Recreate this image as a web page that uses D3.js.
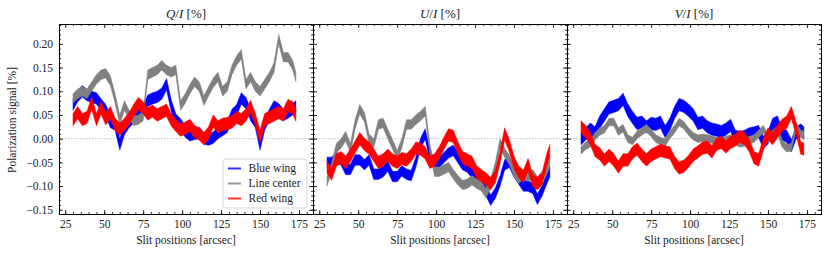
<!DOCTYPE html>
<html>
<head>
<meta charset="utf-8">
<script src="https://cdn.jsdelivr.net/npm/d3@7"></script>
<style>
body { margin: 0; background: white; }
</style>
</head>
<body>
<div id="chart"></div>
<script>
let width = 831;
let height = 255;
let serif = "Liberation Serif";

// slit positions [arcsec]
let slitPos = [30, 33, 36, 39, 42, 45, 48, 51, 54, 57, 60, 63, 66, 69, 72, 75, 78, 81, 84, 87,
               90, 93, 96, 99, 102, 105, 108, 111, 114, 117, 120, 123, 126, 129, 132, 135, 138,
               141, 144, 147, 150, 153, 156, 159, 162, 165, 168, 171, 173];

// Q/I
let qBlue = [0.072, 0.09, 0.10, 0.092, 0.088, 0.085, 0.072, 0.06, 0.035, 0.03, -0.012, 0.02, 0.035,
             0.045, 0.055, 0.06, 0.08, 0.085, 0.088, 0.095, 0.115, 0.07, 0.04, 0.03, 0.015, 0.007,
             0.01, 0.012, 0.0, -0.002, 0.002, 0.012, 0.018, 0.025, 0.05, 0.06, 0.085, 0.075, 0.05,
             0.035, -0.012, 0.03, 0.05, 0.068, 0.062, 0.05, 0.055, 0.062, 0.068];
let qCenter = [0.085, 0.095, 0.10, 0.095, 0.11, 0.125, 0.135, 0.138, 0.122, 0.085, 0.04, 0.07, 0.05,
               0.038, 0.04, 0.048, 0.135, 0.14, 0.145, 0.155, 0.145, 0.14, 0.145, 0.07, 0.085, 0.105,
               0.12, 0.11, 0.08, 0.10, 0.118, 0.13, 0.10, 0.11, 0.145, 0.165, 0.178, 0.115, 0.13,
               0.11, 0.10, 0.115, 0.13, 0.15, 0.21, 0.172, 0.172, 0.155, 0.13];
let qRed = [0.04, 0.055, 0.04, 0.045, 0.075, 0.04, 0.065, 0.042, 0.055, 0.03, 0.02, 0.03, 0.042,
            0.06, 0.074, 0.065, 0.052, 0.058, 0.05, 0.055, 0.06, 0.04, 0.028, 0.018, 0.022, 0.028,
            0.015, 0.01, 0.0, 0.012, 0.037, 0.025, 0.03, 0.032, 0.035, 0.045, 0.04, 0.05, 0.068,
            0.04, 0.005, 0.04, 0.045, 0.05, 0.055, 0.05, 0.07, 0.065, 0.05];

// U/I
let uBlue = [-0.05, -0.05, -0.04, -0.045, -0.065, -0.065, -0.045, -0.045, -0.055, -0.045, -0.075,
             -0.075, -0.07, -0.058, -0.08, -0.08, -0.068, -0.075, -0.078, -0.05, -0.01, 0.01, -0.035,
             -0.055, -0.05, -0.04, -0.03, -0.025, -0.04, -0.055, -0.06, -0.072, -0.078, -0.095,
             -0.11, -0.13, -0.115, -0.09, -0.055, -0.05, -0.07, -0.085, -0.10, -0.10, -0.105,
             -0.128, -0.11, -0.085, -0.07];
let uCenter = [-0.09, -0.06, -0.02, -0.01, 0.005, -0.02, 0.03, 0.062, 0.045, 0.0, -0.01, 0.03,
               0.033, 0.01, -0.012, -0.035, -0.01, 0.03, 0.03, 0.04, 0.048, 0.058, -0.02, -0.07,
               -0.07, -0.065, -0.06, -0.075, -0.088, -0.098, -0.095, -0.088, -0.095, -0.10, -0.115,
               -0.095, -0.06, -0.01, -0.03, -0.045, -0.07, -0.085, -0.075, -0.08, -0.075, -0.09,
               -0.08, -0.065, -0.05];
let uRed = [-0.06, -0.075, -0.045, -0.04, -0.05, -0.035, -0.018, 0.0, -0.012, -0.02, -0.035, -0.05,
            -0.045, -0.035, -0.045, -0.05, -0.042, -0.045, -0.035, -0.02, -0.022, -0.03, -0.05,
            -0.045, -0.03, -0.01, 0.008, 0.005, -0.02, -0.04, -0.045, -0.05, -0.07, -0.078, -0.085,
            -0.095, -0.08, -0.04, 0.01, -0.015, -0.05, -0.07, -0.08, -0.055, -0.088, -0.095,
            -0.085, -0.045, -0.025];

// V/I
let vBlue = [0.0, 0.01, 0.02, 0.012, 0.035, 0.05, 0.065, 0.068, 0.072, 0.083, 0.06, 0.045, 0.032,
             0.035, 0.025, 0.032, 0.03, 0.035, 0.015, 0.03, 0.055, 0.072, 0.068, 0.06, 0.05, 0.032,
             0.035, 0.025, 0.02, 0.018, 0.015, 0.02, 0.028, 0.005, 0.002, 0.005, 0.01, 0.012, 0.015,
             -0.008, 0.002, 0.03, 0.035, 0.01, 0.005, -0.015, 0.012, 0.018, 0.012];
let vCenter = [-0.025, -0.015, -0.01, 0.005, 0.015, 0.02, 0.035, 0.035, 0.015, 0.022, 0.0, -0.005,
               0.008, 0.015, 0.022, 0.012, 0.0, -0.005, -0.008, 0.008, 0.02, 0.035, 0.028, 0.015,
               0.005, 0.0, 0.002, 0.0, -0.002, -0.005, -0.006, -0.003, 0.0, -0.005, -0.01, -0.008,
               -0.003, 0.0, 0.01, 0.02, 0.0, 0.01, 0.018, -0.01, -0.02, -0.018, 0.025, 0.01, 0.008];
let vRed = [0.025, 0.015, 0.0, -0.025, -0.032, -0.045, -0.035, -0.045, -0.06, -0.045, -0.045, -0.03,
            -0.022, -0.035, -0.045, -0.035, -0.03, -0.025, -0.028, -0.03, -0.05, -0.062, -0.058,
            -0.048, -0.035, -0.028, -0.02, -0.018, -0.028, -0.012, -0.008, -0.018, -0.008, -0.003,
            0.005, 0.0, -0.015, -0.04, -0.045, -0.012, 0.01, 0.0, 0.015, 0.028, 0.035, 0.055,
            0.022, -0.02, -0.022];

// band half-widths (blue, center, red) per panel
let qErr = [0.012, 0.010, 0.013];
let uErr = [0.011, 0.010, 0.013];
let vErr = [0.013, 0.008, 0.013];

let seriesNames = ["Blue wing", "Line center", "Red wing"];
let seriesColors = ["#0000ff", "#808080", "#ff0000"];

let panels = [
  {title: ["Q", "/", "I"], data: [qBlue, qCenter, qRed], err: qErr},
  {title: ["U", "/", "I"], data: [uBlue, uCenter, uRed], err: uErr},
  {title: ["V", "/", "I"], data: [vBlue, vCenter, vRed], err: vErr}
];

let yTicks = [-0.15, -0.10, -0.05, 0.00, 0.05, 0.10, 0.15, 0.20];
let xTicks = [25, 50, 75, 100, 125, 150, 175];

let svg = d3.select("#chart").append("svg")
  .attr("width", width)
  .attr("height", height)
  .attr("font-family", serif);

let panelLeft = [59, 313, 567];
let panelW = 254;
let plotTop = 24, plotBottom = 214;

let y = d3.scaleLinear().domain([-0.159, 0.242]).range([plotBottom, plotTop]);
let fmt = function(d) { return d3.format(".2f")(d).replace("-", "\u2212"); };

panels.forEach(function(p, pi) {
  let x = d3.scaleLinear().domain([21, 184]).range([panelLeft[pi], panelLeft[pi] + panelW]);
  let g = svg.append("g");

  g.append("clipPath").attr("id", "clip" + pi)
    .append("rect")
    .attr("x", panelLeft[pi]).attr("y", plotTop)
    .attr("width", panelW).attr("height", plotBottom - plotTop);

  // zero line
  g.append("line")
    .attr("x1", panelLeft[pi]).attr("x2", panelLeft[pi] + panelW)
    .attr("y1", y(0)).attr("y2", y(0))
    .attr("stroke", "#b0b0b0").attr("stroke-width", 0.8)
    .attr("stroke-dasharray", "1.5,1.5");

  let plot = g.append("g").attr("clip-path", "url(#clip" + pi + ")");
  p.data.forEach(function(vals, si) {
    let e = p.err[si];
    let area = d3.area()
      .x(function(d, i) { return x(slitPos[i]); })
      .y0(function(d) { return y(d - e); })
      .y1(function(d) { return y(d + e); });
    plot.append("path")
      .datum(vals)
      .attr("d", area)
      .attr("fill", seriesColors[si])
      .attr("stroke", seriesColors[si])
      .attr("stroke-width", 0.5);
  });

  // axes, ticks inward on all sides
  let xMinor = d3.range(25, 184, 5);
  let yMinor = d3.range(-15, 25, 1).map(function(d) { return d / 100; });

  let bAxis = d3.axisBottom(x).tickValues(xTicks).tickSize(-4).tickPadding(6).tickFormat(d3.format("d"));
  let tAxis = d3.axisTop(x).tickValues(xTicks).tickSize(-4).tickFormat("");
  let lAxis = d3.axisLeft(y).tickValues(yTicks).tickSize(-4).tickPadding(6).tickFormat(fmt);
  let rAxis = d3.axisRight(y).tickValues(yTicks).tickSize(-4).tickFormat("");

  g.append("g").attr("transform", "translate(0," + plotBottom + ")").call(bAxis);
  g.append("g").attr("transform", "translate(0," + plotBottom + ")")
    .call(d3.axisBottom(x).tickValues(xMinor).tickSize(-2).tickFormat(""));
  g.append("g").attr("transform", "translate(0," + plotTop + ")").call(tAxis);
  g.append("g").attr("transform", "translate(0," + plotTop + ")")
    .call(d3.axisTop(x).tickValues(xMinor).tickSize(-2).tickFormat(""));
  let gl = g.append("g").attr("transform", "translate(" + panelLeft[pi] + ",0)").call(lAxis);
  g.append("g").attr("transform", "translate(" + panelLeft[pi] + ",0)")
    .call(d3.axisLeft(y).tickValues(yMinor).tickSize(-2).tickFormat(""));
  g.append("g").attr("transform", "translate(" + (panelLeft[pi] + panelW) + ",0)").call(rAxis);
  g.append("g").attr("transform", "translate(" + (panelLeft[pi] + panelW) + ",0)")
    .call(d3.axisRight(y).tickValues(yMinor).tickSize(-2).tickFormat(""));

  if (pi > 0) gl.selectAll("text").remove();

  g.selectAll("g").attr("font-family", serif);
  g.selectAll(".domain").attr("stroke", "#000").attr("stroke-width", 0.9);
  g.selectAll(".tick line").attr("stroke", "#000").attr("stroke-width", 0.8);
  g.selectAll(".tick text")
    .attr("font-size", 11.5)
    .attr("fill", "#222");

  // title
  let t = svg.append("text")
    .attr("x", panelLeft[pi] + panelW / 2)
    .attr("y", 18)
    .attr("text-anchor", "middle")
    .attr("fill", "#222")
    .attr("font-size", 13);
  t.append("tspan").attr("font-style", "italic").text(p.title[0]);
  t.append("tspan").text(p.title[1]);
  t.append("tspan").attr("font-style", "italic").text(p.title[2]);
  t.append("tspan").text(" [%]");

  svg.append("text")
    .attr("x", panelLeft[pi] + panelW / 2)
    .attr("y", 244)
    .attr("text-anchor", "middle")
    .attr("fill", "#222")
    .attr("font-size", 11.5)
    .text("Slit positions [arcsec]");
});

svg.append("text")
  .attr("transform", "translate(16,120) rotate(-90)")
  .attr("text-anchor", "middle")
  .attr("fill", "#222")
  .attr("font-size", 11.5)
  .text("Polarization signal [%]");

// legend
let leg = svg.append("g").attr("transform", "translate(223,159)");
leg.append("rect")
  .attr("width", 84).attr("height", 49)
  .attr("rx", 3)
  .attr("fill", "white").attr("fill-opacity", 0.8)
  .attr("stroke", "#cccccc").attr("stroke-width", 0.8);

let items = leg.selectAll(".legends")
  .data(seriesNames)
  .enter().append("g").classed("legends", true)
  .attr("transform", function(d, i) { return "translate(0," + (9.5 + i * 15) + ")"; });

items.append("line")
  .attr("x1", 5).attr("x2", 18)
  .attr("stroke", function(d, i) { return seriesColors[i]; })
  .attr("stroke-opacity", 0.8)
  .attr("stroke-width", 2);

items.append("text")
  .attr("x", 25.5).attr("y", 3.8)
  .attr("fill", "#222")
  .attr("font-size", 11.5)
  .text(function(d) { return d; });
</script>
</body>
</html>
